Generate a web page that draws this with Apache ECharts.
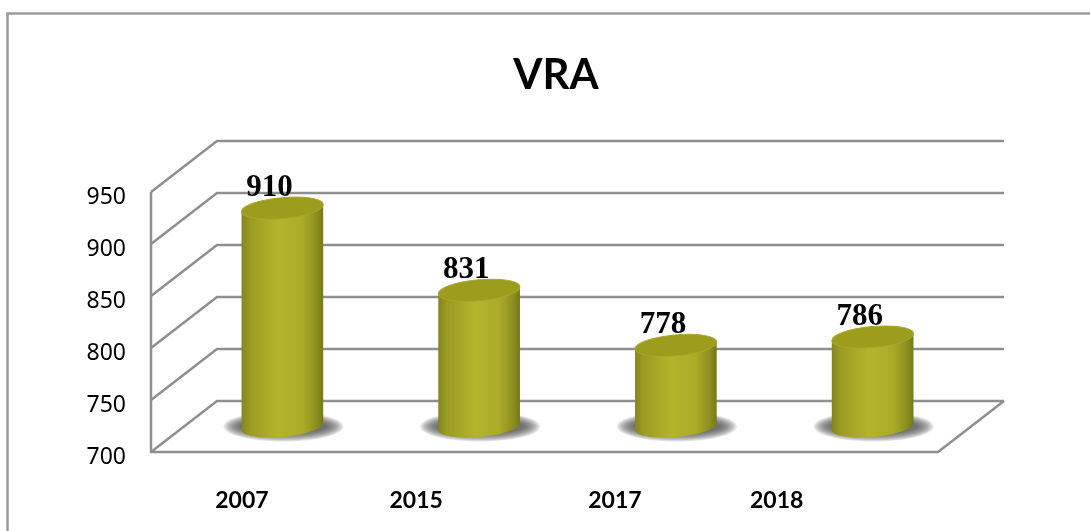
<!DOCTYPE html>
<html><head><meta charset="utf-8">
<style>html,body{margin:0;padding:0;background:#fff}#c{width:1090px;height:531px}</style>
<script src="https://cdn.jsdelivr.net/npm/echarts@6/dist/echarts.min.js"></script>
</head><body><div id="c"></div>
<script>
const categories = ['2007','2015','2017','2018'];
const values = [910,831,778,786];
const yTicks = [700,750,800,850,900,950];
const titleText = 'VRA';

// layout constants (not data)
const depthX = 66, depthY = -51;
const labelShiftPad = [15,60,56,126];
const gridColor = '#8f8f8f';
const lw = 2.5;

function wallItem(params, api){
  const v = api.value(0);
  const p = api.coord([0, v]);
  const size = api.size([1,0]);
  const left = p[0] - size[0]/2;
  const y = p[1];
  const line = pts => ({type:'polyline',shape:{points:pts},style:{stroke:gridColor,lineWidth:lw,fill:null}});
  const children = [line([[left,y],[left+depthX,y+depthY],[left+depthX+size[0]*4,y+depthY]])];
  if (v === yTicks[0]) {
    const right = left + size[0]*4;
    const top = api.coord([0, yTicks[yTicks.length-1]])[1];
    children.push(line([[left,top],[left,y],[right,y],[right+depthX,y+depthY]]));
  }
  return {type:'group',children};
}

function arc(cx, cy, rx, ry, rot){
  const pts = [];
  for (let k = 0; k <= 40; k++) {
    const t = Math.PI * (1 - k/40);
    const x = rx*Math.cos(t), y = ry*Math.sin(t);
    pts.push([cx + x*Math.cos(rot) + y*Math.sin(rot), cy - x*Math.sin(rot) + y*Math.cos(rot)]);
  }
  return pts;
}

function barItem(params, api){
  const i = api.value(0), v = api.value(1);
  const p = api.coord([i, v]);
  const b = api.coord([i, yTicks[0]]);
  const cx = p[0] + depthX/2, topY = p[1] + depthY/2, baseY = b[1] + depthY/2;
  const rx = 41, ry = 10.5, rot = 0.09;
  const side = {type:'linear',x:0,y:0,x2:1,y2:0,colorStops:[
    {offset:0,color:'#85851e'},{offset:0.1,color:'#9a9b22'},{offset:0.45,color:'#b4b52c'},
    {offset:0.75,color:'#aaab28'},{offset:0.92,color:'#8c8d1f'},{offset:1,color:'#777819'}]};
  const lower = arc(cx, baseY, rx, ry, rot);
  const upper = arc(cx, topY, rx, ry, rot);
  const body = lower.concat([upper[upper.length-1], upper[0]]);
  const soft = [];
  for (let k = 0; k < 10; k++) {
    soft.push({type:'ellipse',shape:{cx:cx+1,cy:baseY,rx:60-k*1.8,ry:15-k*0.9},style:{fill:'rgba(80,80,80,0.14)'}});
  }
  return {type:'group',children:soft.concat([
    {type:'polygon',shape:{points:body},style:{fill:side}},
    {type:'ellipse',shape:{cx:0,cy:0,rx:rx,ry:ry},x:cx,y:topY,rotation:rot,style:{fill:'#9c9d1c',stroke:'#a8a92c',lineWidth:1}},
    {type:'text',x:cx-13,y:topY-20,style:{text:String(v),fill:'#000',font:'bold 31px "Liberation Serif"',align:'center',verticalAlign:'middle'}}
  ])};
}

const chart = echarts.init(document.getElementById('c'),null,{renderer:'canvas'});
chart.setOption({
  animation:false,
  backgroundColor:'#fff',
  title:{text:titleText,left:551,top:49,textAlign:'center',textStyle:{fontFamily:'Lato',fontWeight:'bold',fontSize:42,color:'#000'}},
  graphic:[{type:'polyline',shape:{points:[[7.5,531],[7.5,13.5],[1090,13.5]]},style:{fill:null,stroke:'#9a9a9a',lineWidth:2.5},silent:true,z:-1}],
  grid:{left:151,right:152,top:192,bottom:79},
  xAxis:{type:'category',data:categories,
    axisLine:{show:false},axisTick:{show:false},splitLine:{show:false},
    axisLabel:{margin:37,interval:0,
      formatter:(val,idx)=>`{l${idx}|${val}}`,
      rich:Object.fromEntries(labelShiftPad.map((p,i)=>['l'+i,{padding:[0,p,0,0],fontFamily:'Lato',fontWeight:'bold',fontSize:23,color:'#000'}]))}},
  yAxis:{type:'value',min:yTicks[0],max:yTicks[yTicks.length-1],interval:50,
    axisLine:{show:false},axisTick:{show:false},splitLine:{show:false},
    axisLabel:{margin:25,formatter:'{t|{value}}',
      rich:{t:{padding:[10,0,0,0],fontFamily:'Noto Sans',fontSize:23,color:'#000'}}}},
  series:[
    {type:'custom',name:'walls',coordinateSystem:'cartesian2d',data:yTicks.map(t=>[t]),encode:{x:-1,y:0},renderItem:wallItem,silent:true,z:1,clip:false},
    {type:'custom',name:'VRA',coordinateSystem:'cartesian2d',data:values.map((v,i)=>[i,v]),encode:{x:0,y:1},renderItem:barItem,z:2,clip:false}
  ]
});
</script></body></html>
